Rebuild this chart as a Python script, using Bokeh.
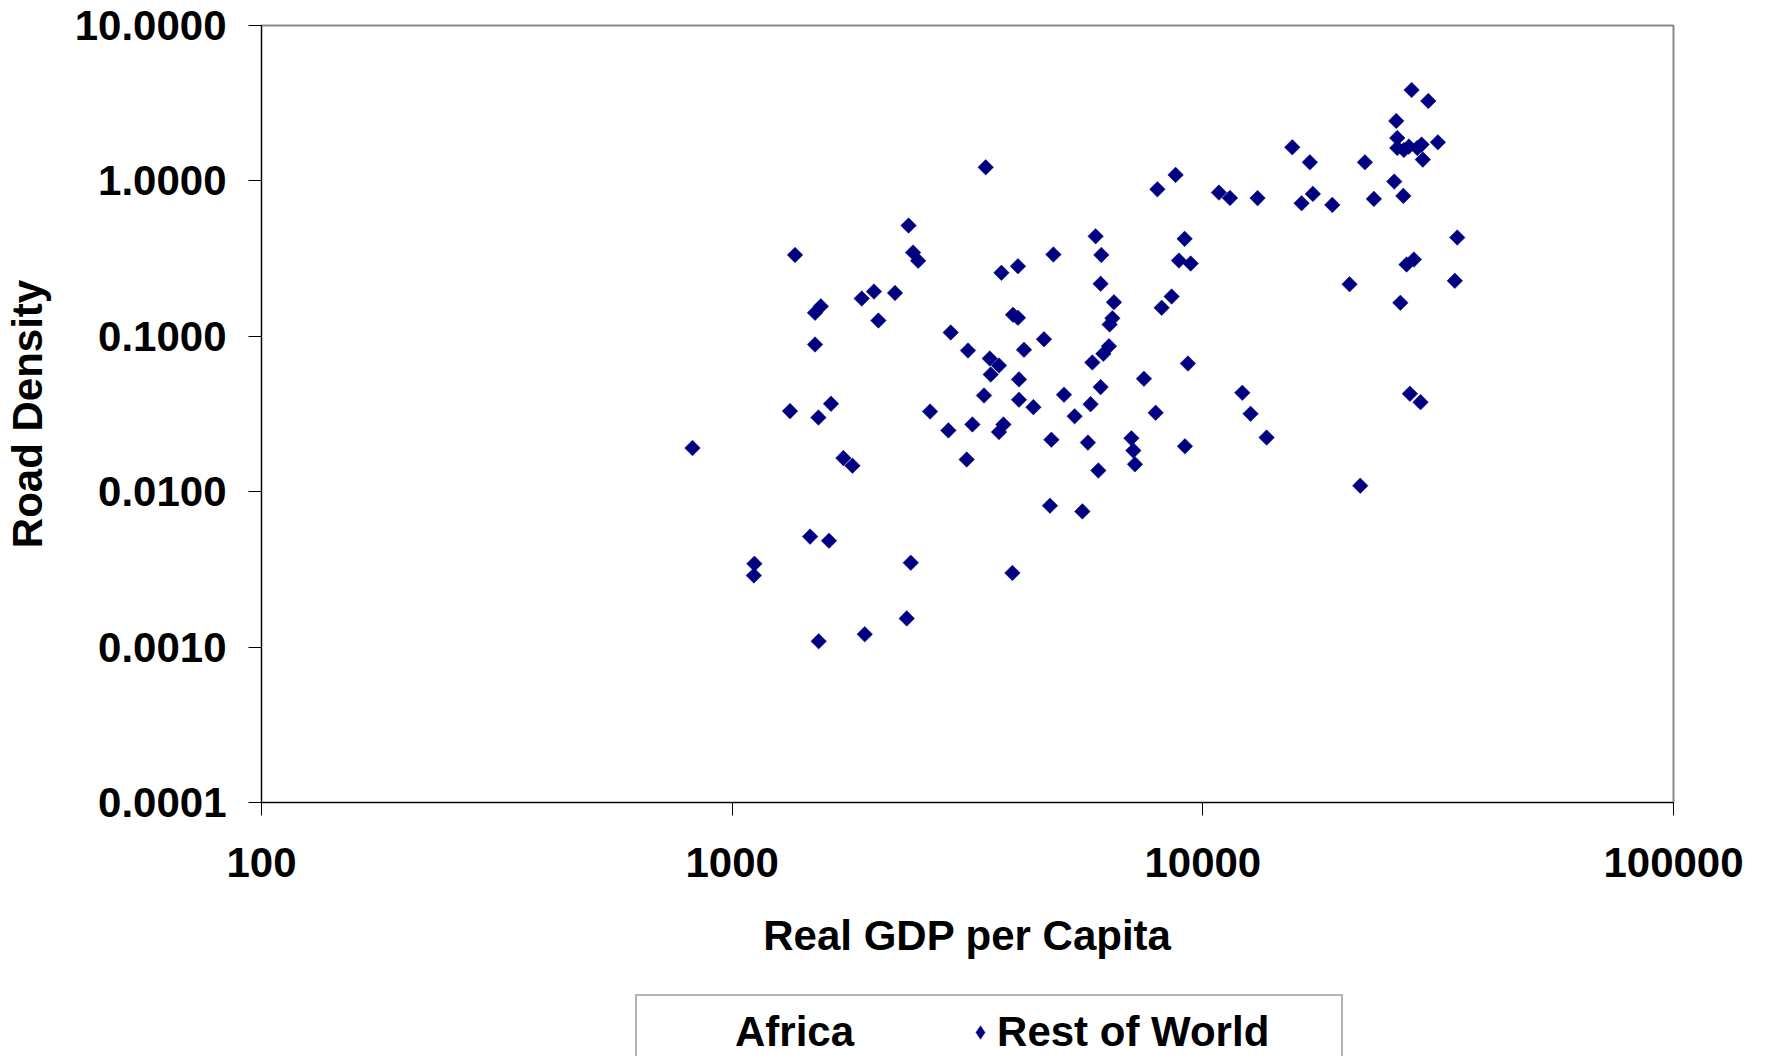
import math
from bokeh.plotting import figure
from bokeh.layouts import column
from bokeh.models import Range1d, FixedTicker, PrintfTickFormatter, Legend, LegendItem
from bokeh.embed import file_html
from bokeh.resources import INLINE

# ---- data (log-log scatter) ----
row_gdp = [2370, 1360, 2423, 2484, 2001, 1885, 2218, 1543, 1500, 2045, 2913, 1500,
           3457, 8753, 8007, 10820, 11420, 13070, 5919, 4814, 6086, 9148, 8897, 9422,
           4048, 3733, 6065, 6474, 8584, 8176, 3951, 4048, 6424, 6339, 4597, 3170,
           4169, 6318, 6147, 5824, 9297, 3526, 3689, 3543, 4068, 7497, 6065, 3428,
           4068, 5070, 5775, 4365, 5341, 7939, 12130, 12630, 3239, 3770, 3689, 4767,
           5700, 7050, 7119, 7175, 9162, 3150, 5998, 4734, 5547, 3939, 1327, 1525,
           1622, 2633, 2880, 823.5, 1723, 1801, 1464, 1606, 1115, 1112, 2396, 2349,
           1913, 1527, 27770, 30130, 25760, 25890, 25890, 26740, 27400, 28550, 29160, 29340,
           31580, 15490, 16880, 22100, 25510, 26670, 23090, 17130, 16210, 18840, 34720, 28080,
           27090, 20500, 34310, 26280, 27540, 29010, 13660, 21600]
row_density = [0.516, 0.334, 0.346, 0.306, 0.194, 0.175, 0.190, 0.156, 0.1416, 0.1263, 0.1058, 0.0886,
               1.223, 1.093, 0.883, 0.841, 0.777, 0.775, 0.440, 0.336, 0.334, 0.4236, 0.3073, 0.2939,
               0.2824, 0.2561, 0.2176, 0.1657, 0.1803, 0.1525, 0.1375, 0.1315, 0.1307, 0.1191, 0.0958, 0.0810,
               0.0819, 0.0864, 0.0772, 0.0679, 0.0668, 0.0720, 0.0649, 0.0568, 0.0528, 0.0533, 0.0471, 0.0416,
               0.0391, 0.0421, 0.0366, 0.0350, 0.0306, 0.0322, 0.0433, 0.0317, 0.0271, 0.0271, 0.0242, 0.0216,
               0.0207, 0.0221, 0.0184, 0.0150, 0.0196, 0.0161, 0.0137, 0.00813, 0.00747, 0.0030, 0.0330, 0.0300,
               0.0368, 0.0328, 0.0248, 0.0191, 0.01645, 0.0147, 0.00514, 0.00484, 0.00344, 0.00289, 0.00349, 0.00153,
               0.00121, 0.00109, 3.847, 3.269, 2.432, 1.890, 1.630, 1.582, 1.662, 1.630, 1.712, 1.371,
               1.771, 1.645, 1.317, 1.317, 0.990, 0.801, 0.766, 0.825, 0.718, 0.701, 0.432, 0.312,
               0.2895, 0.2163, 0.2275, 0.1642, 0.0427, 0.0377, 0.0223, 0.01093]
africa_gdp = []
africa_density = []

series_names = ["Africa", "Rest of World"]
x_ticks = [100, 1000, 10000, 100000]
y_ticks = [0.0001, 0.001, 0.01, 0.1, 1, 10]
x_title = "Real GDP per Capita"
y_title = "Road Density"

FONT = "Liberation Sans"
NAVY = "#000080"
FS = "42px"

p = figure(width=1760, height=980,
           x_axis_type="log", y_axis_type="log",
           x_range=Range1d(100, 100000), y_range=Range1d(0.0001, 10),
           output_backend="svg", toolbar_location=None,
           min_border_left=261, min_border_right=87,
           min_border_top=25, min_border_bottom=178,
           background_fill_color="white", border_fill_color="white")

p.xgrid.visible = False
p.ygrid.visible = False
p.outline_line_color = "#888888"
p.outline_line_width = 2

p.xaxis.ticker = FixedTicker(ticks=x_ticks)
p.yaxis.ticker = FixedTicker(ticks=y_ticks)
p.xaxis.formatter = PrintfTickFormatter(format="%d")
p.yaxis.formatter = PrintfTickFormatter(format="%.4f")
p.xaxis.axis_label = x_title
p.yaxis.axis_label = y_title

for ax in (p.xaxis[0], p.yaxis[0]):
    ax.major_label_text_font = FONT
    ax.major_label_text_font_size = FS
    ax.major_label_text_font_style = "bold"
    ax.major_label_text_color = "black"
    ax.axis_label_text_font = FONT
    ax.axis_label_text_font_size = FS
    ax.axis_label_text_font_style = "bold"
    ax.axis_label_text_color = "black"
    ax.minor_tick_line_color = None
    ax.major_tick_in = 0
    ax.major_tick_out = 13
    ax.major_tick_line_color = "black"
    ax.axis_line_color = "black"
    ax.axis_line_width = 1

p.xaxis.major_label_standoff = 32
p.yaxis.major_label_standoff = 22
p.xaxis.axis_label_standoff = 32
p.yaxis.axis_label_standoff = 21

# data markers (diamonds)
p.scatter(row_gdp, row_density, marker="square", size=11, angle=math.pi / 4,
          fill_color=NAVY, line_color=NAVY, line_width=0.5)

# ---- legend strip below the chart (frame aligned with the chart's frame) ----
lg = figure(width=1760, height=76, x_range=Range1d(0, 1), y_range=Range1d(0, 1),
            output_backend="svg", toolbar_location=None,
            x_axis_location=None, y_axis_location=None,
            min_border=0, outline_line_color=None,
            background_fill_color="white", border_fill_color="white")
lg.xgrid.visible = False
lg.ygrid.visible = False

africa_r = lg.scatter(africa_gdp, africa_density, marker="diamond", size=16,
                      fill_alpha=0, line_alpha=0)
# legend swatch for the series (its single point lies outside this strip's range)
row_proxy = lg.scatter(row_gdp[:1], row_density[:1], marker="diamond", size=14,
                       fill_color=NAVY, line_color=NAVY, line_width=0.5)
box_dummy = lg.scatter(africa_gdp, africa_density, fill_alpha=0, line_alpha=0)

box_legend = Legend(items=[LegendItem(label=" ", renderers=[box_dummy])],
                    location=(374, -42), orientation="horizontal",
                    padding=0, margin=0, spacing=0,
                    glyph_width=1, glyph_height=1, label_standoff=0,
                    label_width=703, label_height=100,
                    border_line_color="#6a6a6a", border_line_width=2,
                    background_fill_color="white", background_fill_alpha=1,
                    label_text_font_size="10px")
lg.add_layout(box_legend, "center")

item_legend = Legend(items=[LegendItem(label=series_names[0], renderers=[africa_r]),
                            LegendItem(label=series_names[1], renderers=[row_proxy])],
                     location=(440, 0), orientation="horizontal",
                     padding=0, margin=0, spacing=109,
                     glyph_width=34, glyph_height=34, label_standoff=0,
                     border_line_alpha=0, background_fill_alpha=0,
                     label_text_font=FONT, label_text_font_size=FS,
                     label_text_font_style="bold", label_text_color="black")
lg.add_layout(item_legend, "center")

layout = column(p, lg, spacing=0)
open("out.html", "w").write(file_html(layout, INLINE))
